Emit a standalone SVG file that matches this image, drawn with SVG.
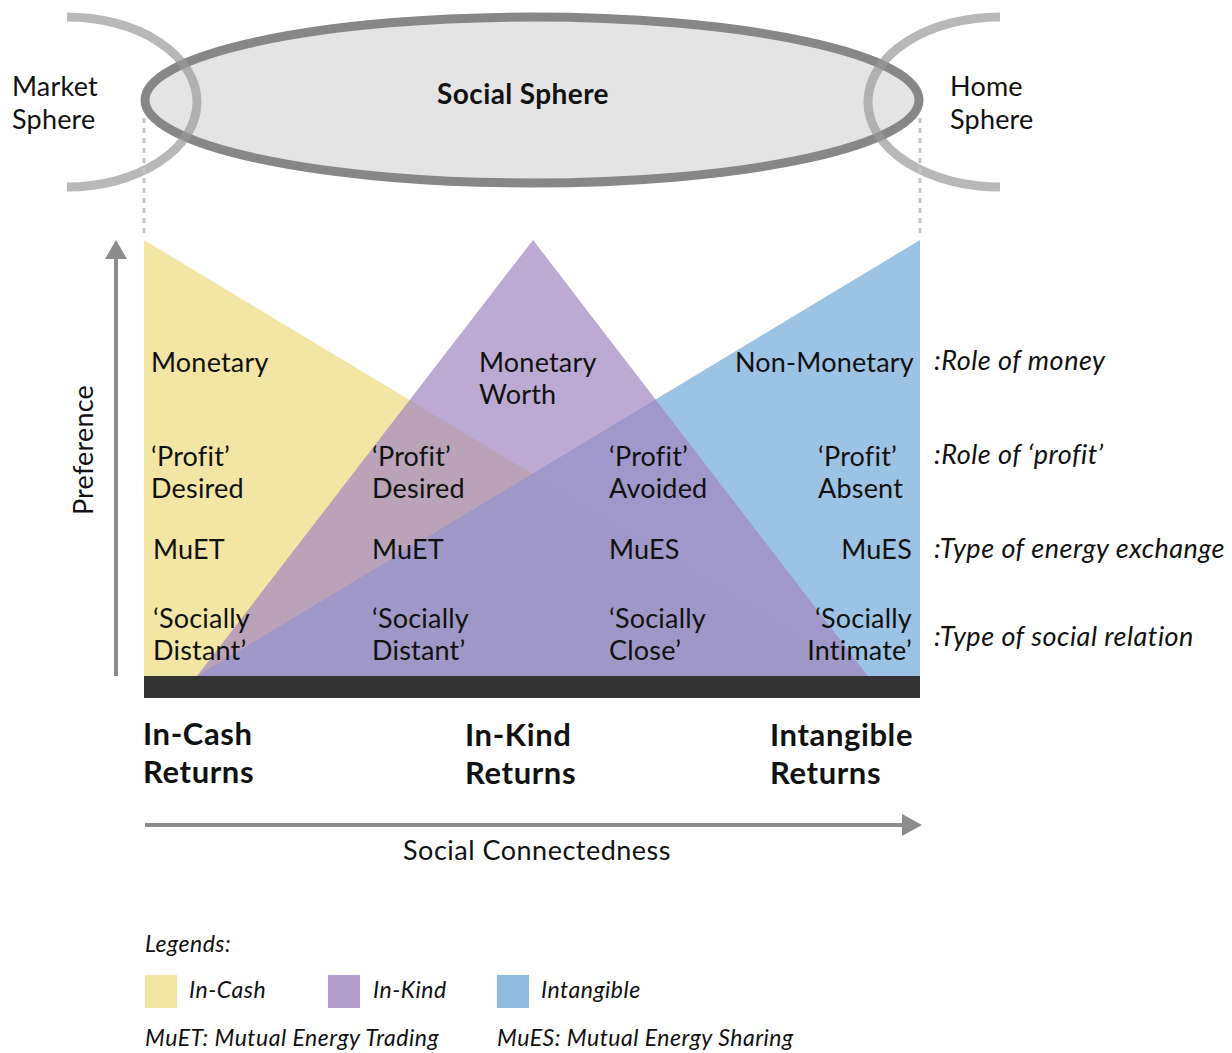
<svg xmlns="http://www.w3.org/2000/svg" width="1232" height="1053" viewBox="0 0 1232 1053">
<defs>
<style>
text { font-family: Lato, "Noto Sans", "Liberation Sans", sans-serif; fill: #111; }
.lbl { font-size: 27px; letter-spacing: 0.2px; }
.it { font-size: 27px; font-style: italic; letter-spacing: 0.5px; }
.bold { font-size: 31px; font-weight: bold; letter-spacing: 0.6px; }
.leg { font-size: 23px; font-style: italic; letter-spacing: 0.5px; }
.arc { fill: none; stroke: #9a9a9a; stroke-width: 9; opacity: 0.7; }
.dash { stroke: #c4c4c4; stroke-width: 3; stroke-dasharray: 5 5; }
.axis { stroke: #8c8c8c; stroke-width: 4; }
</style>
</defs>
<rect width="1232" height="1053" fill="#fff"/>

<g id="spheres">
  <ellipse id="social-sphere" cx="532" cy="100" rx="387" ry="83" fill="#e4e4e4" stroke="#878787" stroke-width="9"/>
  <path id="market-sphere" class="arc" d="M67,17 A130,85 0 0 1 67,187"/>
  <path id="home-sphere" class="arc" d="M1000,17 A132,85 0 0 0 1000,187"/>
  <text x="523" y="104" text-anchor="middle" style="font-size:28px;font-weight:bold;letter-spacing:0.4px">Social Sphere</text>
  <text class="lbl" x="12" y="96">Market</text>
  <text class="lbl" x="12" y="129">Sphere</text>
  <text class="lbl" x="950" y="96">Home</text>
  <text class="lbl" x="950" y="129">Sphere</text>
</g>

<g id="triangles">
  <polygon id="in-cash" points="144,240 144,676 868,676" fill="#F3E6A4"/>
  <polygon id="intangible" points="920,240 920,676 197,676" fill="#85B4DD" fill-opacity="0.8"/>
  <polygon id="in-kind" points="533,240 197,676 868,676" fill="#A186C0" fill-opacity="0.7"/>
  <rect id="base" x="144" y="676" width="776" height="22" fill="#333"/>
</g>

<g id="connectors">
  <line class="dash" x1="144" y1="118" x2="144" y2="238"/>
  <line class="dash" x1="920" y1="118" x2="920" y2="238"/>
  <line class="axis" x1="116" y1="676" x2="116" y2="256"/>
  <polygon points="116,240 105,259 127,259" fill="#8c8c8c"/>
  <line class="axis" x1="145" y1="825" x2="904" y2="825"/>
  <polygon points="922,825 902,814 902,836" fill="#8c8c8c"/>
</g>

<g id="labels">
  <text class="lbl" x="151" y="372">Monetary</text>
  <text class="lbl" x="479" y="372">Monetary</text>
  <text class="lbl" x="479" y="404">Worth</text>
  <text class="lbl" x="914" y="372" text-anchor="end">Non-Monetary</text>

  <text class="lbl" x="151" y="466">‘Profit’</text>
  <text class="lbl" x="151" y="498">Desired</text>
  <text class="lbl" x="372" y="466">‘Profit’</text>
  <text class="lbl" x="372" y="498">Desired</text>
  <text class="lbl" x="609" y="466">‘Profit’</text>
  <text class="lbl" x="609" y="498">Avoided</text>
  <text class="lbl" x="818" y="466">‘Profit’</text>
  <text class="lbl" x="818" y="498">Absent</text>

  <text class="lbl" x="153" y="559">MuET</text>
  <text class="lbl" x="372" y="559">MuET</text>
  <text class="lbl" x="609" y="559">MuES</text>
  <text class="lbl" x="912" y="559" text-anchor="end">MuES</text>

  <text class="lbl" x="153" y="628">‘Socially</text>
  <text class="lbl" x="153" y="660">Distant’</text>
  <text class="lbl" x="372" y="628">‘Socially</text>
  <text class="lbl" x="372" y="660">Distant’</text>
  <text class="lbl" x="609" y="628">‘Socially</text>
  <text class="lbl" x="609" y="660">Close’</text>
  <text class="lbl" x="912" y="628" text-anchor="end">‘Socially</text>
  <text class="lbl" x="912" y="660" text-anchor="end">Intimate’</text>

  <text class="it" x="934" y="370">:Role of money</text>
  <text class="it" x="934" y="464">:Role of ‘profit’</text>
  <text class="it" x="934" y="558">:Type of energy exchange</text>
  <text class="it" x="934" y="646">:Type of social relation</text>

  <text class="bold" x="143" y="745">In-Cash</text>
  <text class="bold" x="143" y="783">Returns</text>
  <text class="bold" x="465" y="746">In-Kind</text>
  <text class="bold" x="465" y="784">Returns</text>
  <text class="bold" x="770" y="746">Intangible</text>
  <text class="bold" x="770" y="784">Returns</text>

  <text class="lbl" x="537" y="860" text-anchor="middle" style="letter-spacing:0.5px">Social Connectedness</text>
  <text class="lbl" transform="translate(93,450) rotate(-90)" text-anchor="middle">Preference</text>
</g>

<g id="legend">
  <text class="leg" x="145" y="952">Legends:</text>
  <rect x="145" y="975" width="32" height="33" fill="#F2E5A2"/>
  <text class="leg" x="189" y="998">In-Cash</text>
  <rect x="328" y="975" width="32" height="33" fill="#B4A0CF"/>
  <text class="leg" x="373" y="998">In-Kind</text>
  <rect x="497" y="975" width="32" height="33" fill="#8EBAE2"/>
  <text class="leg" x="541" y="998">Intangible</text>
  <text class="leg" x="145" y="1046">MuET: Mutual Energy Trading</text>
  <text class="leg" x="497" y="1046">MuES: Mutual Energy Sharing</text>
</g>
</svg>
